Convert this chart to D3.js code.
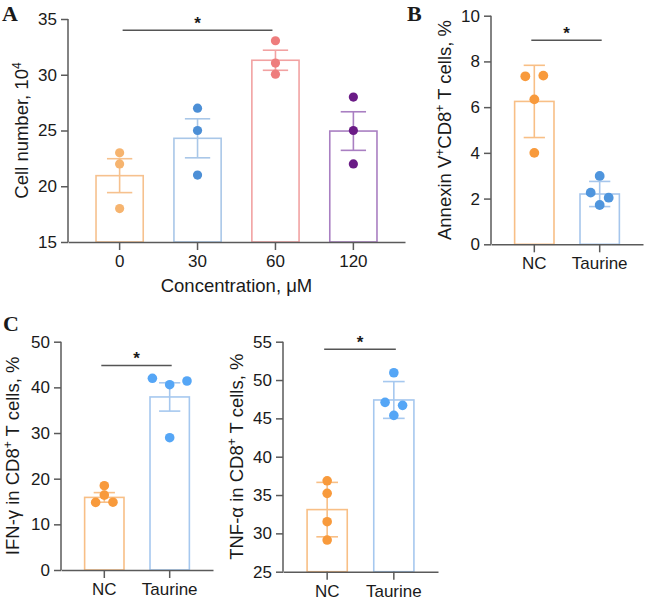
<!DOCTYPE html>
<html>
<head>
<meta charset="utf-8">
<script src="https://cdn.jsdelivr.net/npm/d3@7"></script>
<style>
  html, body { margin: 0; padding: 0; background: #fff; }
  svg { display: block; }
  text { font-family: "Liberation Sans", Arial, sans-serif; fill: #1a1a1a; }
</style>
</head>
<body>
<svg id="chart" width="645" height="600"></svg>
<script>
// ---------- DATA ----------
// Panel A: cell number vs taurine concentration
const concCategories = ["0", "30", "60", "120"];
const cellMeans = [20.95, 24.3, 31.3, 24.95];
const cellErrors = [1.52, 1.75, 0.9, 1.73];
const cellPoints = [[23.0, 22.0, 18.0], [27.0, 25.0, 21.0], [33.05, 31.05, 30.05], [28.0, 25.0, 22.0]];
const cellTicks = [15, 20, 25, 30, 35];

// Panel B: Annexin V+ CD8+ T cells
const groupCategories = ["NC", "Taurine"];
const annexinMeans = [6.25, 2.2];
const annexinErrors = [1.58, 0.55];
const annexinPoints = [[7.35, 7.38, 6.34, 4.0], [2.99, 2.26, 2.04, 1.72]];
const annexinTicks = [0, 2, 4, 6, 8, 10];

// Panel C left: IFN-gamma in CD8+ T cells
const ifnMeans = [15.9, 37.9];
const ifnErrors = [1.05, 3.1];
const ifnPoints = [[18.46, 16.4, 14.8, 14.85], [41.98, 40.58, 41.39, 28.97]];
const ifnTicks = [0, 10, 20, 30, 40, 50];

// Panel C right: TNF-alpha in CD8+ T cells
const tnfMeans = [33.1, 47.4];
const tnfErrors = [3.55, 2.4];
const tnfPoints = [[36.86, 35.22, 31.52, 29.13], [50.95, 47.09, 46.7, 45.39]];
const tnfTicks = [25, 30, 35, 40, 45, 50, 55];

// ---------- DRAWING ----------
const svg = d3.select("#chart");
const AXIS_COLOR = "#5a5a5a";
const TICK_FS = 17;
const TITLE_FS = 18.5;

function drawPanel(cfg) {
  const g = svg.append("g");
  const x = d3.scaleBand()
    .domain(cfg.categories)
    .range(cfg.xRange)
    .paddingInner(0.375)
    .paddingOuter(0.35);
  const y = d3.scaleLinear().domain(cfg.domain).range(cfg.yRange);
  const bw = x.bandwidth();
  const cx = c => x(c) + bw / 2;

  // bars
  g.selectAll("rect.bar").data(cfg.categories).join("rect")
    .attr("x", c => x(c) + 0.75)
    .attr("width", bw - 1.5)
    .attr("y", (c, i) => y(cfg.means[i]))
    .attr("height", (c, i) => y(cfg.domain[0]) - y(cfg.means[i]))
    .attr("fill", "none")
    .attr("stroke", (c, i) => cfg.barColors[i])
    .attr("stroke-width", 1.6);

  // error bars
  const capW = bw * 0.52;
  cfg.categories.forEach((c, i) => {
    const col = cfg.barColors[i];
    const hi = y(cfg.means[i] + cfg.errors[i]);
    const lo = y(cfg.means[i] - cfg.errors[i]);
    g.append("line").attr("x1", cx(c)).attr("x2", cx(c)).attr("y1", hi).attr("y2", lo)
      .attr("stroke", col).attr("stroke-width", 1.6);
    [hi, lo].forEach(yy => {
      g.append("line").attr("x1", cx(c) - capW / 2).attr("x2", cx(c) + capW / 2)
        .attr("y1", yy).attr("y2", yy).attr("stroke", col).attr("stroke-width", 1.6);
    });
  });

  // scatter points (rows of near-equal values spread horizontally)
  cfg.categories.forEach((c, i) => {
    const vals = cfg.points[i];
    const order = vals.map((v, k) => k).sort((a, b) => vals[b] - vals[a]);
    const rows = [];
    let prev = null;
    order.forEach(k => {
      const py = y(vals[k]);
      if (prev !== null && Math.abs(py - prev) < 6) rows[rows.length - 1].push(k);
      else rows.push([k]);
      prev = py;
    });
    const pts = [];
    rows.forEach(row => {
      row.sort((a, b) => a - b);
      row.forEach((k, j) => {
        pts.push({ v: vals[k], off: (j - (row.length - 1) / 2) * cfg.spacing });
      });
    });
    g.selectAll(null).data(pts).join("circle")
      .attr("cx", d => cx(c) + d.off)
      .attr("cy", d => y(d.v))
      .attr("r", cfg.r)
      .attr("fill", cfg.pointColors[i]);
  });

  // axes
  const yAxis = d3.axisLeft(y).tickValues(cfg.ticks).tickSize(7).tickPadding(4).tickFormat(d3.format("d"));
  const ya = g.append("g").attr("transform", `translate(${cfg.xRange[0]},0)`).call(yAxis);
  const xAxis = d3.axisBottom(x).tickSize(8).tickPadding(5).tickSizeOuter(0);
  const xa = g.append("g").attr("transform", `translate(0,${cfg.yRange[0]})`).call(xAxis);
  [ya, xa].forEach(a => {
    a.select(".domain").attr("stroke", AXIS_COLOR).attr("stroke-width", 1.5);
    a.selectAll(".tick line").attr("stroke", AXIS_COLOR).attr("stroke-width", 1.5);
    a.selectAll(".tick text").attr("font-size", TICK_FS).attr("fill", "#1a1a1a")
      .attr("font-family", "'Liberation Sans', Arial, sans-serif");
  });
  ya.select(".domain").attr("d", `M0,${cfg.yRange[0]}V${cfg.yRange[1]}`);

  // y title
  const yt = g.append("text")
    .attr("transform", `translate(${cfg.yTitleX},${(cfg.yRange[0] + cfg.yRange[1]) / 2}) rotate(-90)`)
    .attr("text-anchor", "middle")
    .attr("font-size", TITLE_FS);
  cfg.yTitle.forEach(part => {
    if (part.sup) {
      yt.append("tspan").text(part.t).attr("font-size", 12).attr("dy", -7);
    } else {
      yt.append("tspan").text(part.t).attr("dy", part.after ? 7 : 0);
    }
  });

  // x title
  if (cfg.xTitle) {
    g.append("text")
      .attr("x", (cfg.xRange[0] + cfg.xRange[1]) / 2)
      .attr("y", cfg.xTitleY)
      .attr("text-anchor", "middle")
      .attr("font-size", TITLE_FS)
      .text(cfg.xTitle);
  }

  // significance
  const sy = y(cfg.sig.value);
  const sx1 = cx(cfg.categories[cfg.sig.from]) + cfg.sig.ext[0];
  const sx2 = cx(cfg.categories[cfg.sig.to]) + cfg.sig.ext[1];
  g.append("line").attr("x1", sx1).attr("x2", sx2).attr("y1", sy).attr("y2", sy)
    .attr("stroke", "#555").attr("stroke-width", 1.5);
  g.append("text").attr("x", (sx1 + sx2) / 2).attr("y", sy - 1)
    .attr("text-anchor", "middle").attr("font-size", 17).attr("font-weight", "bold").text("*");
}

drawPanel({
  categories: concCategories, means: cellMeans, errors: cellErrors, points: cellPoints,
  ticks: cellTicks, domain: [15, 35], xRange: [68, 405], yRange: [242, 19],
  barColors: ["#F6C18E", "#A9C7E8", "#F2A2A2", "#A97FC2"],
  pointColors: ["#F6B46F", "#4C8FD6", "#EE7D7D", "#6A1B86"],
  r: 4.6, spacing: 17.5,
  yTitle: [{ t: "Cell number, 10" }, { t: "4", sup: true }],
  yTitleX: 28,
  xTitle: "Concentration, \u03BCM", xTitleY: 292,
  sig: { from: 0, to: 2, value: 34, ext: [3, -3] }
});

drawPanel({
  categories: groupCategories, means: annexinMeans, errors: annexinErrors, points: annexinPoints,
  ticks: annexinTicks, domain: [0, 10], xRange: [491, 643], yRange: [244.3, 15.7],
  barColors: ["#F8BF86", "#A6C6EC"],
  pointColors: ["#F89A3C", "#4F95DD"],
  r: 4.9, spacing: 18,
  yTitle: [{ t: "Annexin V" }, { t: "+", sup: true }, { t: "CD8", after: true }, { t: "+", sup: true }, { t: " T cells, %", after: true }],
  yTitleX: 451,
  sig: { from: 0, to: 1, value: 8.93, ext: [-3, 2] }
});

drawPanel({
  categories: groupCategories, means: ifnMeans, errors: ifnErrors, points: ifnPoints,
  ticks: ifnTicks, domain: [0, 50], xRange: [61, 213], yRange: [570, 341.7],
  barColors: ["#F8BF86", "#A6C8EF"],
  pointColors: ["#F89A3C", "#55A6F6"],
  r: 4.8, spacing: 17.3,
  yTitle: [{ t: "IFN-\u03B3 in CD8" }, { t: "+", sup: true }, { t: " T cells, %", after: true }],
  yTitleX: 19,
  sig: { from: 0, to: 1, value: 44.8, ext: [-3, 2] }
});

drawPanel({
  categories: groupCategories, means: tnfMeans, errors: tnfErrors, points: tnfPoints,
  ticks: tnfTicks, domain: [25, 55], xRange: [283, 438], yRange: [571.7, 341.7],
  barColors: ["#F8BF86", "#A6C8EF"],
  pointColors: ["#F89A3C", "#55A6F6"],
  r: 4.8, spacing: 17.5,
  yTitle: [{ t: "TNF-\u03B1 in CD8" }, { t: "+", sup: true }, { t: " T cells, %", after: true }],
  yTitleX: 243,
  sig: { from: 0, to: 1, value: 54.0, ext: [-3, 2] }
});

// panel letters
[["A", 2, 21], ["B", 407, 21], ["C", 3, 331]].forEach(([t, xx, yy]) => {
  svg.append("text").attr("x", xx).attr("y", yy)
    .style("font-family", "'Liberation Serif', 'Times New Roman', serif")
    .attr("font-weight", "bold").attr("font-size", 22).text(t);
});
</script>
</body>
</html>
